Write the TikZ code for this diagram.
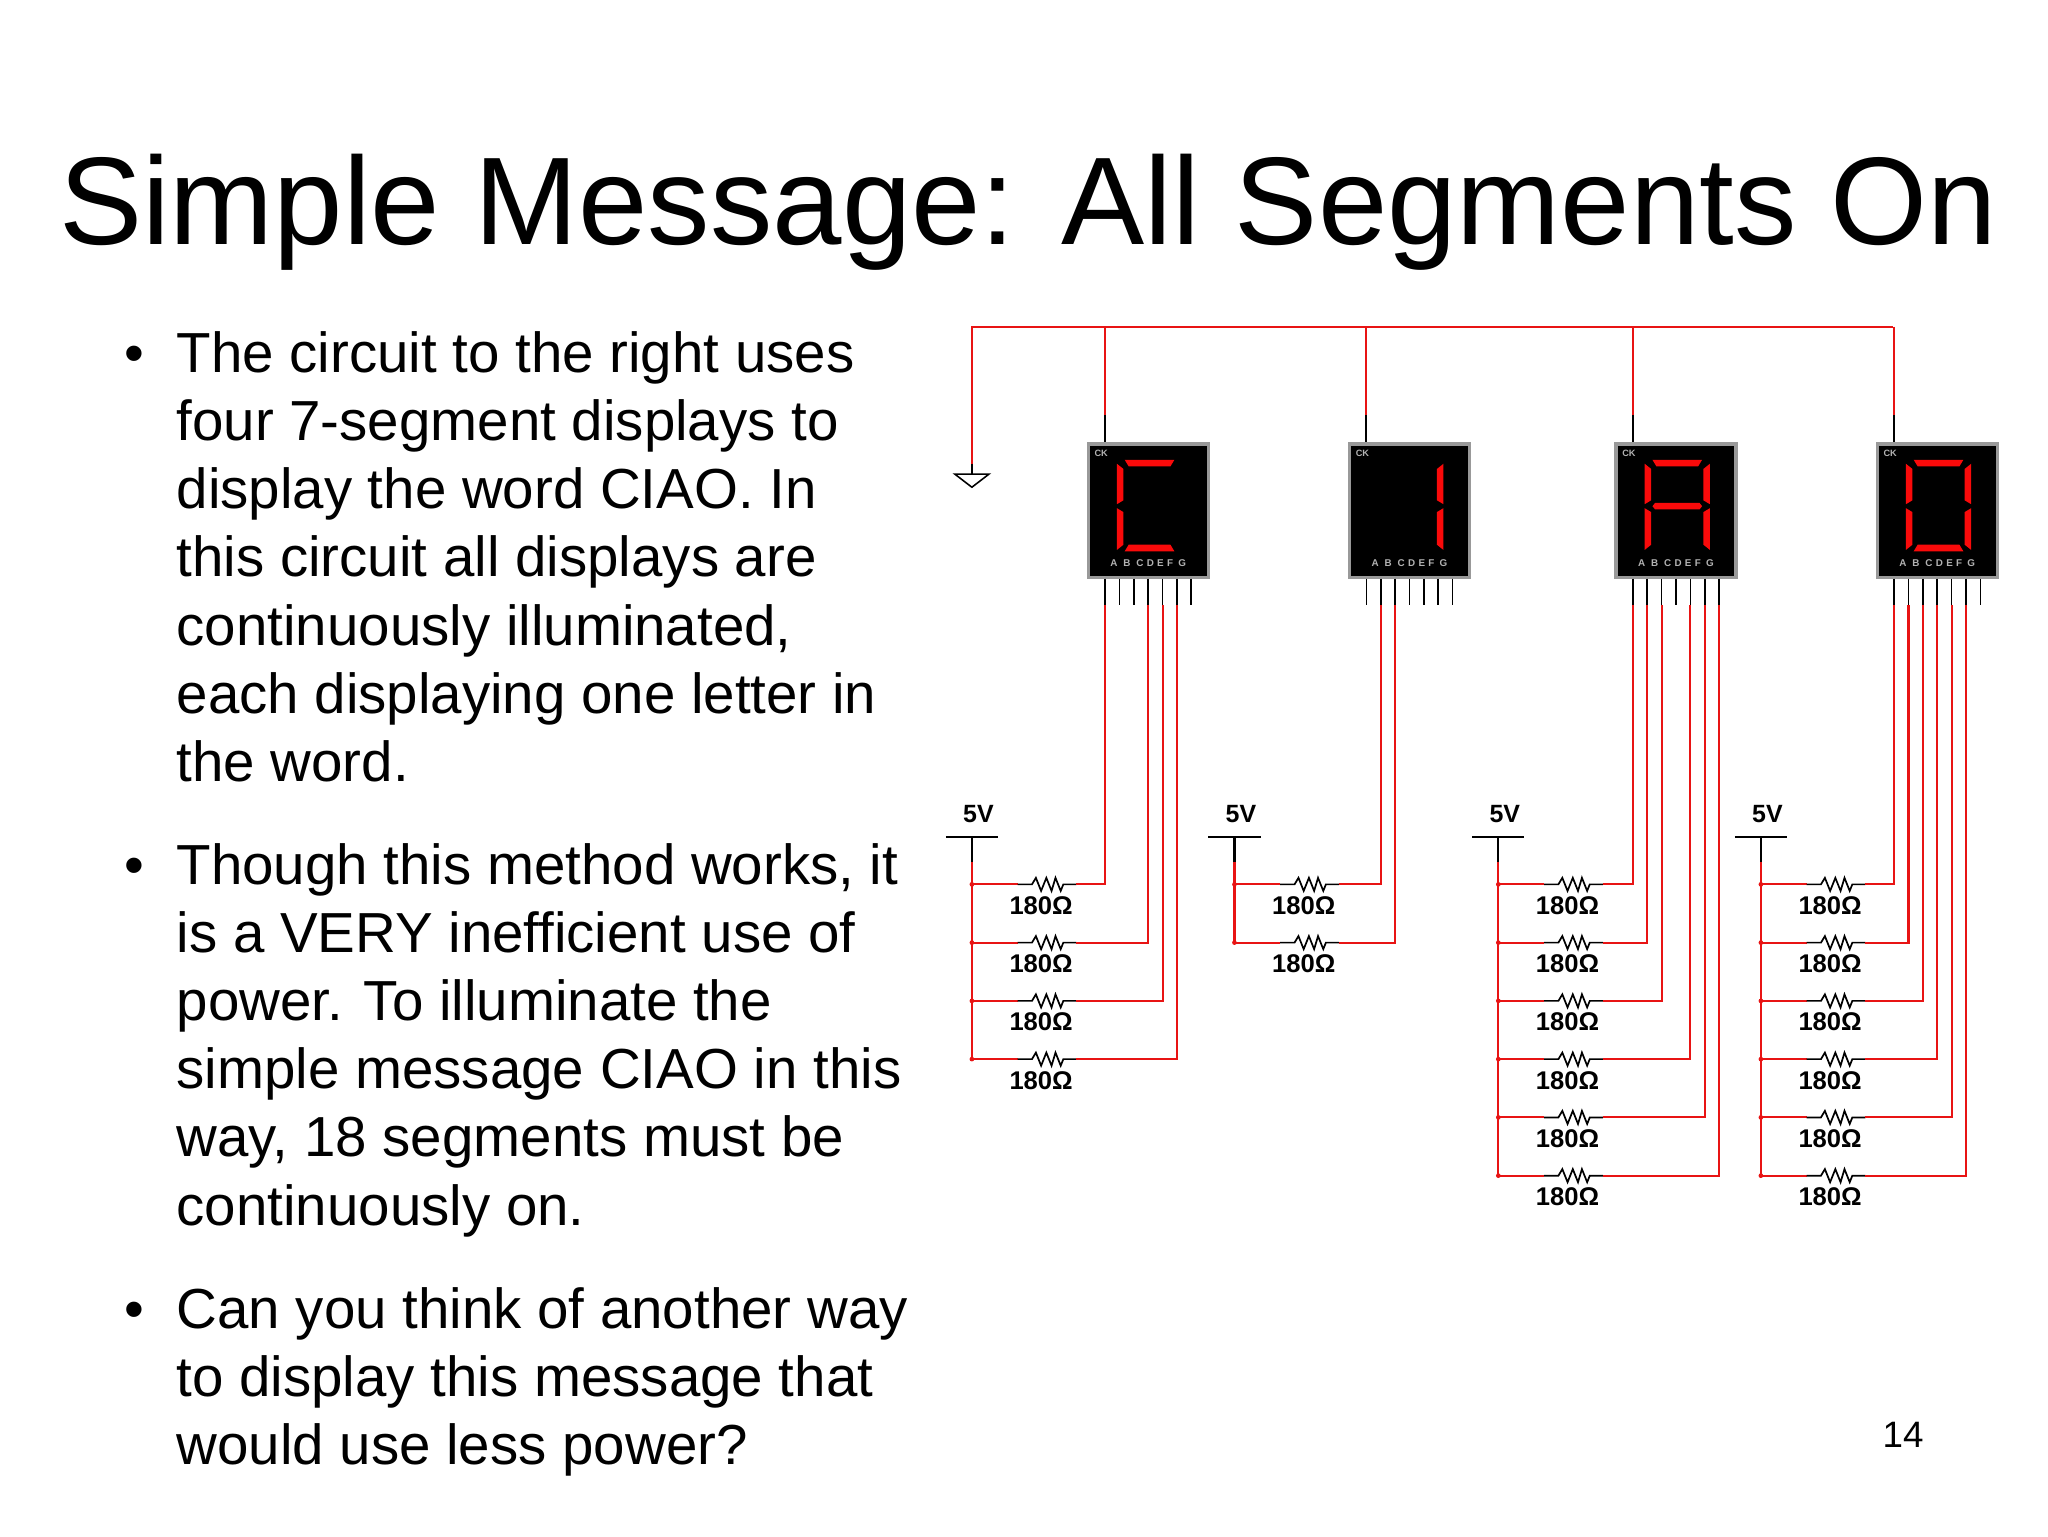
\documentclass[tikz,border=0pt]{standalone}
\usepackage{fontspec}
\setmainfont{Liberation Sans}
\definecolor{wr}{RGB}{232,20,20}
\definecolor{sg}{RGB}{250,10,10}
\tikzset{
 wire/.style={wr,line width=1.6pt},
 blk/.style={black,line width=1.6pt},
 seg/.style={fill=sg,draw=none},
 pics/sega/.style={code={\fill[seg] (28,12)--(66,12)--(63,17)--(31,17)--cycle;}},
 pics/segd/.style={code={\fill[seg] (31,77)--(63,77)--(66,82)--(28,82)--cycle;}},
 pics/segf/.style={code={\fill[seg] (22,15)--(27,19)--(27,43)--(22,46)--cycle;}},
 pics/sege/.style={code={\fill[seg] (22,49)--(27,52)--(27,77)--(22,81)--cycle;}},
 pics/segb/.style={code={\fill[seg] (72,15)--(67,19)--(67,43)--(72,46)--cycle;}},
 pics/segc/.style={code={\fill[seg] (72,49)--(67,52)--(67,77)--(72,81)--cycle;}},
 pics/segg/.style={code={\fill[seg] (30,45)--(64,45)--(66,47.5)--(64,50)--(30,50)--(28,47.5)--cycle;}},
 txt/.style={anchor=base west,inner sep=0pt,font=\fontsize{43}{50}\selectfont},
 rlab/.style={anchor=base,inner sep=0pt,font=\fontsize{19.5}{20}\selectfont\bfseries},
}
\begin{document}
\begin{tikzpicture}[x=0.995pt,y=-0.995pt]
\useasboundingbox (0,0) rectangle (1567.8,1175.9);
\node[anchor=base west,inner sep=0pt,font=\fontsize{95}{100}\selectfont] (title) at (45,187) {Simple Message: All Segments On};
% bullets
\foreach \y/\t [count=\i] in {
 285/{The circuit to the right uses},337/{four 7-segment displays to},389/{display the word CIAO. In},
 441/{this circuit all displays are},494/{continuously illuminated,},546/{each displaying one letter in},598/{the word.},
 677/{Though this method works, it},729/{is a VERY inefficient use of},781/{power. To illuminate the},
 833/{simple message CIAO in this},885/{way, 18 segments must be},938/{continuously on.},
 1017/{Can you think of another way},1069/{to display this message that},1121/{would use less power?}}
 \node[txt] (l\i) at (135,\y) {\t};
\foreach \y [count=\i] in {285,677,1017}
 \node[txt] (b\i) at (95,\y) {\textbullet};
\node[anchor=base west,inner sep=0pt,font=\fontsize{28}{30}\selectfont] (pg) at (1441,1108) {14};
% top wire and ground
\draw[wire] (744,355) -- (744,250) -- (1449,250);
\draw[blk,line width=1.2pt] (744,355) -- (744,363);
\draw[black,line width=1.2pt] (731,363) -- (757,363) -- (744,373) -- cycle;
% displays
\foreach \L/\segs/\pins/\B in {833/{a,d,e,f}/{0,3,4,5}/744, 1033/{b,c}/{1,2}/945, 1237/{a,b,c,e,f,g}/{0,1,2,4,5,6}/1147, 1437/{a,b,c,d,e,f}/{0,1,2,3,4,5}/1348}{
 \draw[wire] (\L+13,250) -- (\L+13,318);
 \draw[blk] (\L+13,318) -- (\L+13,340);
 \draw[fill=black,draw=gray!80,line width=2.5pt] (\L,340) rectangle (\L+92,442);
 \begin{scope}[shift={(\L,340)}]
  \foreach \s in \segs { \pic {seg\s}; }
 \end{scope}
 \node[inner sep=0pt,text=gray!60,font=\fontsize{7}{7}\selectfont\bfseries] at (\L+10,347) {CK};
 \node[inner sep=0pt,text=gray!60,font=\fontsize{7.5}{7}\selectfont\bfseries] at (\L+46,431) {A\hspace{4.5pt}B\hspace{4.5pt}C\hspace{2.5pt}D\hspace{2.5pt}E\hspace{2.5pt}F\hspace{4pt}G};
 \foreach \k in {0,...,6} \draw[blk,line width=1.3pt] (\L+13+11*\k,443) -- (\L+13+11*\k,463);
 % supply
 \node[inner sep=0pt,font=\fontsize{19}{19}\selectfont\bfseries] at (\B+5,623) {5V};
 \draw[blk] (\B-20,641) -- (\B+20,641);
 \draw[blk] (\B,641) -- (\B,660);
 \foreach \p [count=\j] in \pins {
  \pgfmathsetmacro{\yy}{677+44.6*(\j-1)}
  \pgfmathsetmacro{\px}{\L+13+11*\p}
  \draw[wire] (\B,660) -- (\B,\yy) -- (\B+35,\yy);
  \fill[wr] (\B,\yy) circle (1.8);
  \draw[black,line width=1.3pt] (\B+35,\yy) -- (\B+46,\yy) -- (\B+49,\yy-5) -- (\B+53,\yy+5) -- (\B+57,\yy-5) -- (\B+61,\yy+5) -- (\B+64,\yy-5) -- (\B+68,\yy+5) -- (\B+70,\yy) -- (\B+80,\yy);
  \draw[wire] (\B+80,\yy) -- (\px,\yy) -- (\px,463);
  \node[rlab] at (\B+53,\yy+23) {180Ω};
 }
}
\end{tikzpicture}
\end{document}
